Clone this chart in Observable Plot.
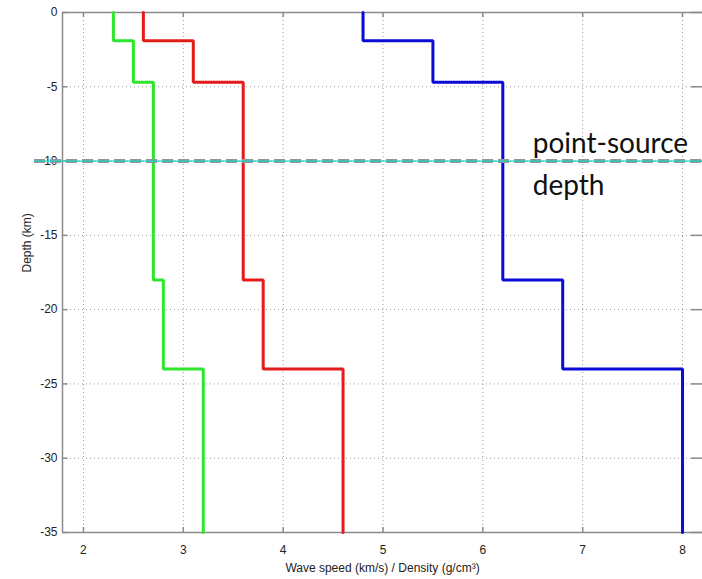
<!DOCTYPE html>
<html>
<head>
<meta charset="utf-8">
<script src="https://cdn.jsdelivr.net/npm/d3@7"></script>
<script src="https://cdn.jsdelivr.net/npm/@observablehq/plot@0.6"></script>
<style>
  html, body { margin: 0; padding: 0; background: #fff; }
  #chart svg { display: block; }
</style>
</head>
<body>
<div id="chart"></div>
<script>
// Layer boundaries (km, depth negative downward)
const layerTops    = [0, -1.9, -4.7, -18, -24];
const layerBottoms = [-1.9, -4.7, -18, -24, -35];
// Wave speeds / density per layer
const vp      = [4.8, 5.5, 6.2, 6.8, 8.0];   // blue
const vs      = [2.6, 3.1, 3.6, 3.8, 4.6];   // red
const density = [2.3, 2.5, 2.7, 2.8, 3.2];   // green
const seriesNames  = ["Vp", "Vs", "Density"];
const seriesColors = ["#0b0bd6", "#e41b1b", "#2ee62e"];
const sourceDepth = -10;
const xTicks = [2, 3, 4, 5, 6, 7, 8];
const yTicks = [0, -5, -10, -15, -20, -25, -30, -35];
const xDomain = [1.79, 8.2];
const yDomain = [-35, 0];

function profile(values, name) {
  const pts = [];
  values.forEach((v, i) => {
    pts.push({series: name, x: v, y: layerTops[i]});
    pts.push({series: name, x: v, y: layerBottoms[i]});
  });
  return pts;
}
const lines = [
  profile(vp, seriesNames[0]),
  profile(vs, seriesNames[1]),
  profile(density, seriesNames[2])
];

const tickLenX = 0.055; // data units for left/right inward ticks
const tickLenY = 0.34;  // data units for top/bottom inward ticks
const frameColor = "#8a8a8a";

const chart = Plot.plot({
  width: 702,
  height: 579,
  marginLeft: 62,
  marginRight: 0,
  marginTop: 12,
  marginBottom: 47,
  style: {fontFamily: "Liberation Sans, Arial, sans-serif", fontSize: "12px", color: "#222", background: "#fff", overflow: "visible"},
  x: {domain: xDomain},
  y: {domain: yDomain},
  marks: [
    // dotted grid
    Plot.ruleX(xTicks, {stroke: "#9a9a9a", strokeOpacity: 1, strokeWidth: 1, strokeDasharray: "1,3"}),
    Plot.ruleY(yTicks, {stroke: "#9a9a9a", strokeOpacity: 1, strokeWidth: 1, strokeDasharray: "1,3"}),
    // frame (left, top, bottom)
    Plot.ruleX([xDomain[0]], {stroke: frameColor, strokeWidth: 1.5}),
    Plot.ruleY([yDomain[1]], {stroke: frameColor, strokeWidth: 1.5}),
    Plot.ruleY([yDomain[0]], {stroke: frameColor, strokeWidth: 1.5}),
    // inward ticks
    Plot.ruleX(xTicks, {y1: yDomain[0], y2: yDomain[0] + tickLenY, stroke: frameColor, strokeWidth: 1.5}),
    Plot.ruleX(xTicks, {y1: yDomain[1], y2: yDomain[1] - tickLenY, stroke: frameColor, strokeWidth: 1.5}),
    Plot.ruleY(yTicks, {x1: xDomain[0], x2: xDomain[0] + tickLenX, stroke: frameColor, strokeWidth: 1.5}),
    Plot.ruleY(yTicks, {x1: xDomain[1] - tickLenX * 2, x2: xDomain[1], stroke: frameColor, strokeWidth: 1.5}),
    // axes labels
    Plot.axisX({ticks: xTicks, tickSize: 0, tickPadding: 13, label: null, tickFormat: d => String(d), fill: "#222"}),
    Plot.axisY({ticks: yTicks, tickSize: 0, tickPadding: 5, label: null, tickFormat: d => String(d), fill: "#222"}),
    // profiles
    ...lines.map((pts, i) => Plot.line(pts, {x: "x", y: "y", stroke: seriesColors[i], strokeWidth: 3, strokeLinejoin: "miter"})),
    // point-source depth line
    Plot.ruleY([sourceDepth], {x1: 1.51, x2: xDomain[1], stroke: "#959595", strokeWidth: 4, strokeDasharray: "11,5", clip: false}),
    Plot.ruleY([sourceDepth], {x1: 1.51, x2: xDomain[1], stroke: "#1ad6c8", strokeWidth: 1.2, clip: false}),
    Plot.text(["point-source"], {x: 6.5, y: -9.45, text: d => d, textAnchor: "start", lineAnchor: "bottom", fontSize: 28, fontFamily: "Lato, sans-serif", fill: "#111"}),
    Plot.text(["depth"], {x: 6.5, y: -12.3, text: d => d, textAnchor: "start", lineAnchor: "bottom", fontSize: 28, fontFamily: "Lato, sans-serif", fill: "#111"}),
    // axis titles
    Plot.text(["Wave speed (km/s) / Density (g/cm³)"], {frameAnchor: "bottom", dy: 39, text: d => d, fontSize: 12, fill: "#222"}),
    Plot.text(["Depth (km)"], {frameAnchor: "left", dx: -35, rotate: -90, text: d => d, fontSize: 12, fill: "#222"})
  ]
});
document.getElementById("chart").appendChild(chart);
</script>
</body>
</html>
